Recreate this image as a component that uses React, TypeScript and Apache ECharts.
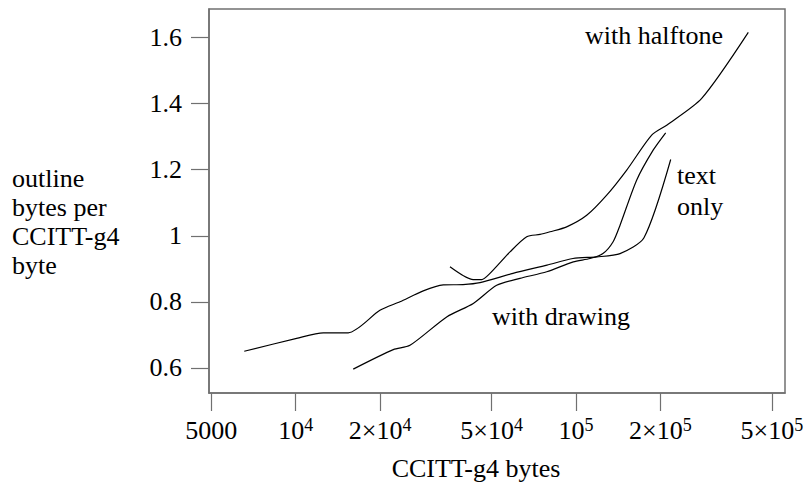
import React, { useEffect, useRef } from "react";
import * as echarts from "echarts";

// Data
const textOnlyX = [6555, 10080, 12550, 15400, 19980, 23560, 28520, 33620, 39530, 45460, 59600, 78790, 97560, 118800, 143600, 174800, 217700];
const textOnlyY = [0.650, 0.689, 0.706, 0.706, 0.774, 0.800, 0.833, 0.851, 0.852, 0.858, 0.886, 0.911, 0.931, 0.936, 0.946, 0.994, 1.231];

const drawingX = [16050, 22300, 25570, 34570, 43020, 52130, 63120, 78640, 97810, 112200, 124800, 135500, 143600, 164700, 188700, 208900];
const drawingY = [0.596, 0.655, 0.668, 0.754, 0.795, 0.850, 0.871, 0.891, 0.921, 0.931, 0.946, 0.981, 1.032, 1.169, 1.260, 1.312];

const halftoneX = [35520, 42460, 46080, 49340, 58150, 66710, 74400, 80770, 92640, 109200, 128700, 151700, 186200, 210700, 280800, 411800];
const halftoneY = [0.906, 0.868, 0.867, 0.886, 0.951, 0.997, 1.004, 1.012, 1.027, 1.062, 1.123, 1.199, 1.305, 1.335, 1.416, 1.616];

const xTickValues = [5000, 10000, 20000, 50000, 100000, 200000, 500000];
const xTickMantissa = ["5000", "", "2×", "5×", "", "2×", "5×"];
const xTickExponent = ["", "4", "4", "4", "5", "5", "5"];
const yTickValues = [0.6, 0.8, 1, 1.2, 1.4, 1.6];
const yTickLabels = ["0.6", "0.8", "1", "1.2", "1.4", "1.6"];

const xRange = [4907, 556700];
const yRange = [0.5236, 1.687];

const FONT = "Liberation Serif";
const FS = 26;
const FRAME = "#707070";

const toPairs = (xs: number[], ys: number[]) => xs.map((x, i) => [Math.log10(x), ys[i]]);

const txt = (text: string, x: number, y: number, align: string = "center", extra: any = {}) => ({
  type: "text",
  x,
  y,
  style: {
    text,
    fontFamily: FONT,
    fontSize: FS,
    fill: "#000",
    align,
    verticalAlign: "middle",
    ...extra,
  },
});

export default function App() {
  const ref = useRef<HTMLDivElement>(null);
  useEffect(() => {
    if (!ref.current) return;
    const chart = echarts.init(ref.current, null, { renderer: "svg" });
    const xLogTicks = xTickValues.map((v) => Math.log10(v));
    const lineSeries = (name: string, xs: number[], ys: number[]) => ({
      name,
      type: "line",
      data: toPairs(xs, ys),
      showSymbol: false,
      smooth: 0.25,
      lineStyle: { color: "#000", width: 1.2 },
      silent: true,
    });
    chart.setOption({
      animation: false,
      backgroundColor: "#fff",
      textStyle: { fontFamily: FONT },
      grid: {
        left: 209,
        right: 24,
        top: 9,
        bottom: 90,
        show: true,
        borderColor: FRAME,
        borderWidth: 1.5,
      },
      xAxis: {
        type: "value",
        min: Math.log10(xRange[0]),
        max: Math.log10(xRange[1]),
        splitLine: { show: false },
        axisLine: { show: true, lineStyle: { color: FRAME, width: 1.5 } },
        axisTick: {
          show: true,
          inside: false,
          length: 18,
          customValues: xLogTicks,
          lineStyle: { color: FRAME, width: 1.2 },
        },
        axisLabel: {
          customValues: xLogTicks,
          margin: 23,
          color: "#000",
          fontFamily: FONT,
          fontSize: FS,
          formatter: (v: number) => {
            let idx = 0;
            let best = Infinity;
            xLogTicks.forEach((t, i) => {
              const d = Math.abs(t - v);
              if (d < best) {
                best = d;
                idx = i;
              }
            });
            const m = xTickMantissa[idx];
            const e = xTickExponent[idx];
            if (!e) return `{n|${m}}`;
            return `{n|${m}10}{s|${e}}`;
          },
          rich: {
            n: { fontSize: FS, fontFamily: FONT, color: "#000", lineHeight: 29 },
            s: { fontSize: 18, fontFamily: FONT, color: "#000", lineHeight: 17, verticalAlign: "top" },
          },
        },
      },
      yAxis: {
        type: "value",
        min: yRange[0],
        max: yRange[1],
        splitLine: { show: false },
        axisLine: { show: true, lineStyle: { color: FRAME, width: 1.5 } },
        axisTick: {
          show: true,
          inside: false,
          length: 18,
          customValues: yTickValues,
          lineStyle: { color: FRAME, width: 1.2 },
        },
        axisLabel: {
          customValues: yTickValues,
          margin: 27,
          color: "#000",
          fontFamily: FONT,
          fontSize: FS,
          formatter: (v: number) => {
            const i = yTickValues.findIndex((t) => Math.abs(t - v) < 1e-6);
            return i >= 0 ? yTickLabels[i] : "";
          },
        },
      },
      series: [
        lineSeries("text only", textOnlyX, textOnlyY),
        lineSeries("with drawing", drawingX, drawingY),
        lineSeries("with halftone", halftoneX, halftoneY),
      ],
      graphic: [
        {
          type: "text",
          x: 12,
          y: 164,
          style: {
            text: "outline\nbytes per\nCCITT-g4\nbyte",
            fontFamily: FONT,
            fontSize: FS,
            fill: "#000",
            lineHeight: 29,
            align: "left",
            verticalAlign: "top",
          },
        },
        txt("CCITT-g4 bytes", 476, 468),
        txt("with halftone", 654, 35),
        txt("text", 677, 175, "left"),
        txt("only", 677, 206, "left"),
        txt("with drawing", 561, 316),
      ],
    });
    return () => chart.dispose();
  }, []);
  return <div ref={ref} style={{ width: 809, height: 483, position: "absolute", left: 0, top: 0 }} />;
}
